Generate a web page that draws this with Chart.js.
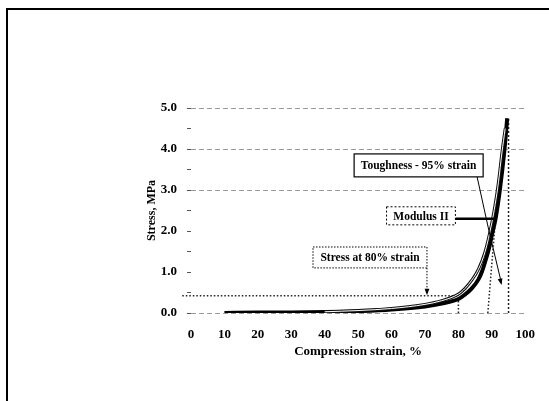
<!DOCTYPE html>
<html>
<head>
<meta charset="utf-8">
<script src="https://cdn.jsdelivr.net/npm/chart.js@4.4.0/dist/chart.umd.min.js"></script>
<style>
  html, body { margin: 0; padding: 0; background: #fff; }
  #wrap { width: 549px; height: 401px; }
</style>
</head>
<body>
<div id="wrap"><canvas id="myChart" width="549" height="401"></canvas></div>
<script>
// Данные кривых (деформация, % / напряжение, МПа)
const strainMain = [10, 20, 30, 40, 50, 60, 70, 75, 80, 82, 84, 86, 87, 88, 89.4, 90, 91.1, 92.4, 93.8, 94.6];
const stressMain = [0, 0.01, 0.015, 0.025, 0.045, 0.085, 0.16, 0.23, 0.34, 0.45, 0.6, 0.82, 1.0, 1.25, 1.66, 1.9, 2.29, 3.0, 4.0, 4.75];

const strainUpper = [40, 50, 60, 70, 75, 80, 82, 84, 86, 88, 90, 91, 92, 93, 94];
const stressUpper = [0.03, 0.06, 0.11, 0.21, 0.3, 0.46, 0.6, 0.8, 1.07, 1.5, 2.2, 2.65, 3.2, 3.9, 4.5];

// Вспомогательные линии
const toughStrain = [95, 95];
const toughStress = [0, 4.75];
const s80Strain = [80, 80];
const s80Stress = [0, 0.42];
const s80hStrain = [-2.6, 80];
const s80hStress = [0.42, 0.42];
const tangentStrain = [88.8, 92.3];
const tangentStress = [0, 3.5];

const xTicks = [0, 10, 20, 30, 40, 50, 60, 70, 80, 90, 100];

const serif = '"Liberation Serif", "DejaVu Serif", serif';

function pts(xs, ys) {
    return xs.map(function (x, i) { return { x: x, y: ys[i] }; });
}

function refLine(xs, ys, dash) {
    return {
        data: pts(xs, ys),
        borderColor: '#222',
        borderWidth: 1.5,
        borderDash: dash,
        pointRadius: 0,
        fill: false,
        clip: false,
        order: 5
    };
}

// Рамка вокруг рисунка
const framePlugin = {
    id: 'frame',
    beforeDraw(chart) {
        const ctx = chart.ctx;
        ctx.save();
        ctx.fillStyle = '#fff';
        ctx.fillRect(0, 0, chart.width, chart.height);
        ctx.strokeStyle = '#000';
        ctx.lineWidth = 2;
        ctx.beginPath();
        ctx.moveTo(6, 9);
        ctx.lineTo(549, 9);
        ctx.moveTo(7, 9);
        ctx.lineTo(7, 401);
        ctx.stroke();
        ctx.restore();
    }
};

function arrowHead(ctx, x1, y1, x2, y2) {
    const a = Math.atan2(y2 - y1, x2 - x1);
    const s = 7;
    ctx.beginPath();
    ctx.moveTo(x2, y2);
    ctx.lineTo(x2 - s * Math.cos(a - 0.35), y2 - s * Math.sin(a - 0.35));
    ctx.lineTo(x2 - s * Math.cos(a + 0.35), y2 - s * Math.sin(a + 0.35));
    ctx.closePath();
    ctx.fill();
}

// Подписи-выноски
const calloutPlugin = {
    id: 'callouts',
    afterDatasetsDraw(chart) {
        const ctx = chart.ctx;
        const xs = chart.scales.x, ys = chart.scales.y;
        const px = v => xs.getPixelForValue(v);
        const py = v => ys.getPixelForValue(v);
        ctx.save();
        ctx.font = 'bold 11.5px ' + serif;
        ctx.textAlign = 'center';
        ctx.textBaseline = 'middle';
        ctx.fillStyle = '#000';
        ctx.strokeStyle = '#000';

        function box(x1, y1, x2, y2, text, dash, lw) {
            const l = px(x1), r = px(x2), t = py(y1), b = py(y2);
            ctx.fillStyle = '#fff';
            ctx.fillRect(l, t, r - l, b - t);
            ctx.setLineDash(dash);
            ctx.lineWidth = lw;
            ctx.strokeRect(l, t, r - l, b - t);
            ctx.setLineDash([]);
            ctx.fillStyle = '#000';
            ctx.fillText(text, (l + r) / 2, (t + b) / 2 + 1);
        }

        // Toughness
        box(48.8, 3.88, 87.4, 3.32, 'Toughness - 95% strain', [], 1.2);
        ctx.lineWidth = 1;
        ctx.beginPath();
        ctx.moveTo(px(85.6), py(3.32));
        ctx.quadraticCurveTo(px(89.0), py(2.0), px(92.9), py(0.72));
        ctx.stroke();
        arrowHead(ctx, px(92.0), py(1.0), px(92.9), py(0.68));

        // Modulus
        box(58.5, 2.59, 79.1, 2.15, 'Modulus II', [2, 2], 1);
        ctx.lineWidth = 2.5;
        ctx.beginPath();
        ctx.moveTo(px(79.1), py(2.3));
        ctx.lineTo(px(91.1), py(2.3));
        ctx.stroke();

        // Stress at 80%
        box(36.5, 1.61, 70.6, 1.10, 'Stress at 80% strain', [1.5, 1.5], 1);
        ctx.lineWidth = 1;
        ctx.setLineDash([1.5, 1.5]);
        ctx.beginPath();
        ctx.moveTo(px(70.6), py(1.10));
        ctx.lineTo(px(70.6), py(0.5));
        ctx.stroke();
        ctx.setLineDash([]);
        arrowHead(ctx, px(70.6), py(0.8), px(70.6), py(0.43));
        ctx.restore();
    }
};

const ctx = document.getElementById('myChart').getContext('2d');
const myChart = new Chart(ctx, {
    type: 'line',
    data: {
        datasets: [
            {
                data: pts(strainUpper, stressUpper),
                borderColor: '#fff',
                borderWidth: 1,
                pointRadius: 0,
                cubicInterpolationMode: 'monotone',
                order: 1
            },
            {
                data: pts(strainUpper, stressUpper),
                borderColor: '#111',
                borderWidth: 3,
                pointRadius: 0,
                cubicInterpolationMode: 'monotone',
                order: 2
            },
            {
                data: pts(strainMain, stressMain),
                borderColor: '#000',
                borderWidth: 4,
                pointRadius: 0,
                cubicInterpolationMode: 'monotone',
                order: 3
            },
            refLine(toughStrain, toughStress, [2, 2]),
            refLine(s80Strain, s80Stress, [1.5, 2]),
            refLine(s80hStrain, s80hStress, [1.5, 2]),
            refLine(tangentStrain, tangentStress, [1.5, 2])
        ]
    },
    options: {
        responsive: false,
        animation: false,
        layout: { padding: { top: 108, right: 18, left: 0, bottom: 0 } },
        plugins: {
            legend: { display: false },
            tooltip: { enabled: false }
        },
        scales: {
            x: {
                type: 'linear',
                min: 0,
                max: 100,
                afterBuildTicks: function (scale) {
                    scale.ticks = xTicks.map(v => ({ value: v }));
                },
                afterFit: function (scale) { scale.height = 88; },
                border: { display: false },
                grid: { display: false, drawTicks: false },
                ticks: {
                    color: '#000',
                    padding: 14,
                    maxRotation: 0,
                    font: { family: serif, size: 13, weight: 'bold' }
                },
                title: {
                    display: true,
                    text: 'Compression strain, %',
                    color: '#000',
                    padding: { top: 2, bottom: 42 },
                    font: { family: serif, size: 13, weight: 'bold' }
                }
            },
            y: {
                min: 0,
                max: 5,
                afterFit: function (scale) { scale.width = 191; },
                border: { display: false, dash: [5, 3] },
                grid: {
                    color: function (c) {
                        const v = c.tick ? c.tick.value : -1;
                        if (v === 0 || v === 3 || v === 4 || v === 5) return '#9a9a9a';
                        return 'rgba(0,0,0,0)';
                    },
                    tickColor: '#555',
                    tickLength: 4,
                    lineWidth: 1,
                    tickBorderDash: []
                },
                ticks: {
                    stepSize: 0.5,
                    color: '#000',
                    padding: 10,
                    font: { family: serif, size: 13, weight: 'bold' },
                    callback: function (v) {
                        return Number.isInteger(v) ? v.toFixed(1) : '';
                    }
                },
                title: {
                    display: true,
                    text: 'Stress, MPa',
                    color: '#000',
                    padding: { top: 145, bottom: 0 },
                    font: { family: serif, size: 12, weight: 'bold' }
                }
            }
        }
    },
    plugins: [framePlugin, calloutPlugin]
});
</script>
</body>
</html>
